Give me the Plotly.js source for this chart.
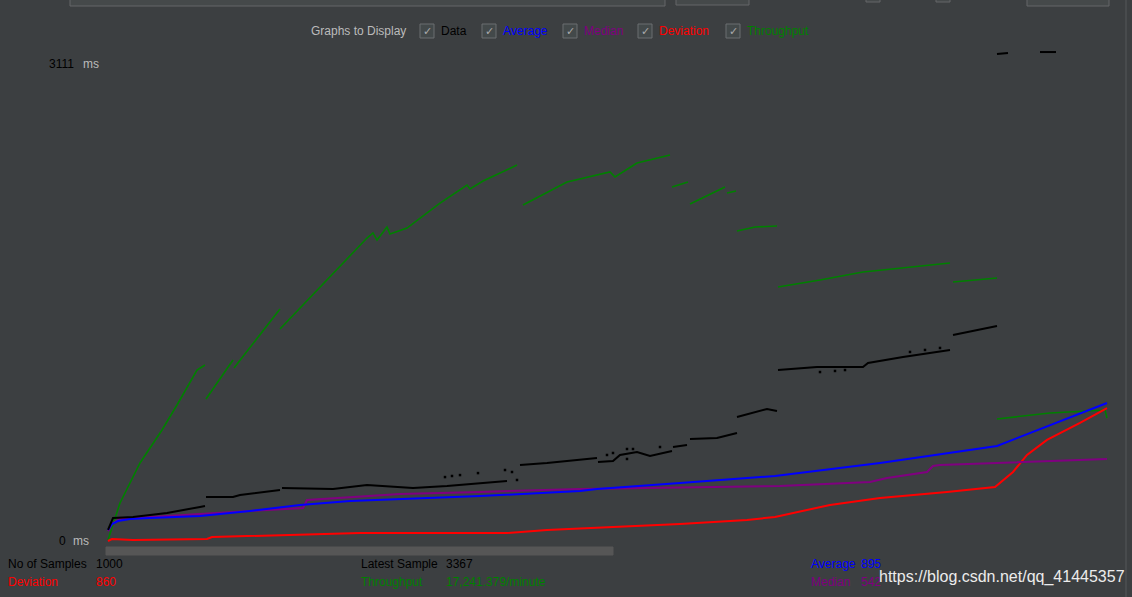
<!DOCTYPE html>
<html><head><meta charset="utf-8">
<script src="https://cdn.plot.ly/plotly-3.0.1.min.js"></script>
<style>html,body{margin:0;padding:0;background:#3c3f41;}#chart{width:1132px;height:597px;}</style>
</head><body><div id="chart"></div>
<script>
// ---- Data (sample index vs. milliseconds) ----
const dataX  = [1,6,26,60,93,98,null,99,126,133,173,null,175,226,260,293,306,340,373,400,null,413,440,490,null,491,506,513,530,543,565,null,566,580,null,583,610,630,null,630,660,670,null,671,710,756,761,796,843,null,846,890,null,890,901,null,933,949];
const dataMs = [72,150,157,183,222,228,null,287,287,300,333,null,346,339,365,352,346,359,378,391,null,496,509,541,null,515,522,561,580,554,587,null,613,626,null,665,672,704,null,809,861,848,null,1115,1135,1135,1161,1200,1246,null,1344,1402,null,3176,3183,null,3189,3189];
const dataNoiseX  = [338,345,353,371,398,405,410,500,506,520,526,520,553,713,728,738,803,818,833];
const dataNoiseMs = [417,424,430,443,463,450,398,561,574,600,600,535,613,1102,1109,1115,1233,1246,1259];

const avgX  = [1,5,11,23,43,93,143,193,243,293,373,473,490,573,668,773,890,1000];
const avgMs = [72,111,130,143,150,163,196,235,261,274,293,326,339,378,424,509,620,900];

const medX  = [1,5,13,43,93,143,196,200,243,293,373,473,606,673,763,780,820,826,833,890,1000];
const medMs = [65,111,143,157,176,196,215,267,287,307,320,339,352,359,385,411,450,489,496,509,535];

const devX  = [1,5,26,100,105,143,253,400,440,506,573,640,668,723,773,840,888,906,920,940,973,1000];
const devMs = [0,13,7,13,26,33,52,52,72,91,111,137,157,235,280,320,352,450,561,659,770,867];

const thrX  = [1,13,33,55,70,90,98,null,99,126,null,127,173,null,173,260,266,270,280,283,300,333,360,363,376,410,null,416,460,503,508,530,563,null,565,581,null,583,618,null,620,629,null,630,648,670,null,671,713,756,843,null,846,890,null,890,943,998,1000];
const thrMs = [7,248,509,724,887,1115,1148,null,926,1180,null,1128,1513,null,1383,1976,2009,1963,2048,2002,2041,2204,2322,2296,2348,2452,null,2191,2341,2407,2374,2465,2517,null,2309,2341,null,2198,2309,null,2270,2283,null,2022,2048,2054,null,1657,1702,1754,1813,null,1689,1715,null,796,835,854,802];

const legendItems  = ["Data","Average","Median","Deviation","Throughput"];
const legendColors = ["#000000","#0000ff","#800080","#ff0000","#008000"];
const yTopLabel = "3111";
const yBottomLabel = "0";
const unitLabel = "ms";
const stats = {
  samples: "1000", deviation: "860", latest: "3367",
  throughput: "17,241.379/minute", average: "895", median: "542"
};
const watermark = "https://blog.csdn.net/qq_41445357";

// ---- Layout helpers ----
const W = 1132, H = 597;
const K = 3111 / 477;             // ms per pixel
const xr = [-107, W - 107];       // sample index range across the full width
const yr = [(541 - H) * K, 541 * K];
const px = x => x / W;
const py = y => 1 - y / H;
const FONT = "Liberation Sans, Arial, sans-serif";

const traces = [
  {x: thrX, y: thrMs, mode: "lines", line: {color: "#008000", width: 1.6}, connectgaps: false},
  {x: devX, y: devMs, mode: "lines", line: {color: "#ff0000", width: 2}},
  {x: medX, y: medMs, mode: "lines", line: {color: "#800080", width: 2}},
  {x: avgX, y: avgMs, mode: "lines", line: {color: "#0000ff", width: 2}},
  {x: dataX, y: dataMs, mode: "lines", line: {color: "#000000", width: 2}, connectgaps: false},
  {x: dataNoiseX, y: dataNoiseMs, mode: "markers", marker: {color: "#000000", size: 2.5, symbol: "square"}}
];

const shapes = [];
const annotations = [];
function rectPx(x0, y0, x1, y1, fill, line) {
  shapes.push({type: "rect", xref: "paper", yref: "paper", x0: px(x0), x1: px(x1), y0: py(y1), y1: py(y0),
    fillcolor: fill, line: {color: line, width: 1}, layer: "below"});
}
function textPx(x, y, text, color, size, anchor) {
  annotations.push({xref: "paper", yref: "paper", x: px(x), y: py(y), text: text, showarrow: false,
    xanchor: anchor || "left", yanchor: "middle", borderpad: 0,
    font: {family: FONT, size: size || 12, color: color}});
}

// top toolbar remnants
rectPx(70, -6, 665, 6, "#45494a", "#646769");
rectPx(676, -6, 749, 5, "#45494a", "#646769");
rectPx(866, -6, 880, 2, "#45494a", "#646769");
rectPx(936, -6, 950, 2, "#45494a", "#646769");
rectPx(1027, -6, 1109, 6, "#45494a", "#646769");
// right edge line
shapes.push({type: "line", xref: "paper", yref: "paper", x0: px(1126), x1: px(1126), y0: 0, y1: 1,
  line: {color: "#55585a", width: 1}});
// bottom scroll bar
rectPx(106, 547, 613, 555, "#565656", "#565656");

// "Graphs to Display" row
textPx(310, 31, "Graphs to Display", "#bbbbbb", 12);
const boxX = [420, 482, 563, 638, 726];
legendItems.forEach((t, i) => {
  rectPx(boxX[i], 24, boxX[i] + 14, 38, "#43494a", "#6b6e70");
  textPx(boxX[i] + 7, 31, "✓", "#aaaaaa", 11, "center");
  textPx(boxX[i] + 20, 31, t, legendColors[i], 12);
});

// y labels
textPx(48, 64, yTopLabel, "#000000", 12);
textPx(82, 64, unitLabel, "#bbbbbb", 12);
textPx(58, 541, yBottomLabel, "#000000", 12);
textPx(72, 541, unitLabel, "#bbbbbb", 12);

// statistics
textPx(7, 564, "No of Samples", "#000000", 12);
textPx(95, 564, stats.samples, "#000000", 12);
textPx(7, 582, "Deviation", "#ff0000", 12);
textPx(95, 582, stats.deviation, "#ff0000", 12);
textPx(360, 564, "Latest Sample", "#000000", 12);
textPx(445, 564, stats.latest, "#000000", 12);
textPx(360, 582, "Throughput", "#008000", 12);
textPx(445, 582, stats.throughput, "#008000", 12);
textPx(810, 564, "Average", "#0000ff", 12);
textPx(860, 564, stats.average, "#0000ff", 12);
textPx(810, 582, "Median", "#800080", 12);
textPx(860, 582, stats.median, "#800080", 12);
textPx(878, 577, watermark, "#ececec", 16);

const layout = {
  width: W, height: H,
  margin: {l: 0, r: 0, t: 0, b: 0, pad: 0},
  paper_bgcolor: "#3c3f41", plot_bgcolor: "#3c3f41",
  showlegend: false,
  xaxis: {range: xr, visible: false, fixedrange: true},
  yaxis: {range: yr, visible: false, fixedrange: true},
  shapes: shapes, annotations: annotations, hovermode: false
};
Plotly.newPlot("chart", traces, layout, {staticPlot: true, displayModeBar: false});
</script>
</body></html>
